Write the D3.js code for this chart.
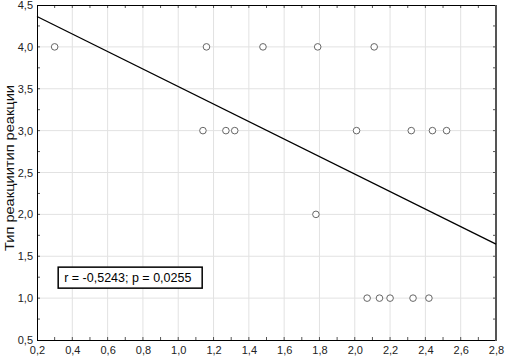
<!DOCTYPE html>
<html>
<head>
<meta charset="utf-8">
<script src="https://cdn.jsdelivr.net/npm/d3@7"></script>
<style>
  body { margin: 0; background: #fff; }
  text { font-family: Arial, "Liberation Sans", sans-serif; }
</style>
</head>
<body>
<svg id="chart"></svg>
<script>
// reaction type vs. value
const xs = [0.30, 1.16, 1.48, 1.79, 2.11,
            1.14, 1.27, 1.32, 2.01, 2.32, 2.44, 2.52,
            1.78,
            2.07, 2.14, 2.20, 2.33, 2.42];
const ys = [4, 4, 4, 4, 4,
            3, 3, 3, 3, 3, 3, 3,
            2,
            1, 1, 1, 1, 1];
const xticks = [0.2, 0.4, 0.6, 0.8, 1.0, 1.2, 1.4, 1.6, 1.8, 2.0, 2.2, 2.4, 2.6, 2.8];
const yticks = [0.5, 1.0, 1.5, 2.0, 2.5, 3.0, 3.5, 4.0, 4.5];
const ylabel = "Тип реакциитип реакции";
const note = "r = -0,5243; p = 0,0255";

const width = 505, height = 357;
const margin = { top: 5, right: 9, bottom: 17, left: 37 };
const iw = width - margin.left - margin.right;
const ih = height - margin.top - margin.bottom;

const svg = d3.select("#chart").attr("width", width).attr("height", height);
const g = svg.append("g").attr("transform", `translate(${margin.left},${margin.top})`);

const x = d3.scaleLinear().domain([0.2, 2.8]).range([0, iw]);
const y = d3.scaleLinear().domain([0.5, 4.5]).range([ih, 0]);
const fmt = d => d3.format(".1f")(d).replace(".", ",");

// grid
g.append("g").selectAll("line").data(xticks.slice(1, -1)).join("line")
  .attr("x1", d => x(d)).attr("x2", d => x(d)).attr("y1", 0).attr("y2", ih)
  .attr("stroke", "#e2e2e2");
g.append("g").selectAll("line").data(yticks.slice(1, -1)).join("line")
  .attr("y1", d => y(d)).attr("y2", d => y(d)).attr("x1", 0).attr("x2", iw)
  .attr("stroke", "#e2e2e2");

// axes
const xaxis = d3.axisBottom(x).tickValues(xticks).tickFormat(fmt).tickSize(0).tickPadding(6);
const yaxis = d3.axisLeft(y).tickValues(yticks).tickFormat(fmt).tickSize(0).tickPadding(4);
const xg = g.append("g").attr("transform", `translate(0,${ih})`).call(xaxis);
const yg = g.append("g").call(yaxis);
[xg, yg].forEach(a => {
  a.select(".domain").remove();
  a.selectAll("text").attr("font-size", 11).attr("fill", "#222")
    .attr("font-family", "Arial, 'Liberation Sans', sans-serif");
});

// inner ticks
const minorX = d3.range(0.3, 2.8, 0.1);
const minorY = d3.range(0.75, 4.5, 0.25);
g.append("g").selectAll("line").data(minorX).join("line")
  .attr("x1", d => x(d)).attr("x2", d => x(d)).attr("y1", ih).attr("y2", ih - 3)
  .attr("stroke", "#555");
g.append("g").selectAll("line").data(minorX).join("line")
  .attr("x1", d => x(d)).attr("x2", d => x(d)).attr("y1", 0).attr("y2", 3)
  .attr("stroke", "#555");
g.append("g").selectAll("line").data(minorY).join("line")
  .attr("y1", d => y(d)).attr("y2", d => y(d)).attr("x1", iw).attr("x2", iw - 3)
  .attr("stroke", "#555");
g.append("g").selectAll("line").data(minorY).join("line")
  .attr("y1", d => y(d)).attr("y2", d => y(d)).attr("x1", 0).attr("x2", 3)
  .attr("stroke", "#555");

// frame
g.append("line").attr("x1", 0).attr("x2", iw).attr("y1", 0.5).attr("y2", 0.5).attr("stroke", "#000");
g.append("line").attr("x1", 0.5).attr("x2", 0.5).attr("y1", 0).attr("y2", ih).attr("stroke", "#000");
g.append("line").attr("x1", 0).attr("x2", iw).attr("y1", ih + 0.5).attr("y2", ih + 0.5).attr("stroke", "#000");
g.append("line").attr("x1", iw).attr("x2", iw).attr("y1", 0).attr("y2", ih + 1).attr("stroke", "#555").attr("stroke-width", 2);

// regression line (least squares on the points)
const mx = d3.mean(xs), my = d3.mean(ys);
const sxy = d3.sum(xs, (v, i) => (v - mx) * (ys[i] - my));
const sxx = d3.sum(xs, v => (v - mx) * (v - mx));
const slope = sxy / sxx, icpt = my - slope * mx;
const line = d3.line().x(d => x(d)).y(d => y(icpt + slope * d));
g.append("path").datum(x.domain()).attr("d", line)
  .attr("fill", "none").attr("stroke", "#000").attr("stroke-width", 1.3);

// points
g.append("g").selectAll("circle").data(xs).join("circle")
  .attr("cx", d => x(d)).attr("cy", (d, i) => y(ys[i])).attr("r", 3.3)
  .attr("fill", "#fff").attr("stroke", "#666").attr("stroke-width", 1);

// annotation
const nb = g.append("g").attr("transform", `translate(${x(0.32)},${y(1.37)})`);
nb.append("rect").attr("width", 144).attr("height", 21)
  .attr("fill", "#fff").attr("stroke", "#000").attr("stroke-width", 1.5);
nb.append("text").attr("x", 6).attr("y", 15).attr("font-size", 12.5).attr("fill", "#000").text(note);

// y label
svg.append("text")
  .attr("transform", `translate(14,168) rotate(-90)`)
  .attr("text-anchor", "middle").attr("font-size", 13).attr("fill", "#111")
  .attr("textLength", 166).attr("lengthAdjust", "spacingAndGlyphs")
  .text(ylabel);
</script>
</body>
</html>
